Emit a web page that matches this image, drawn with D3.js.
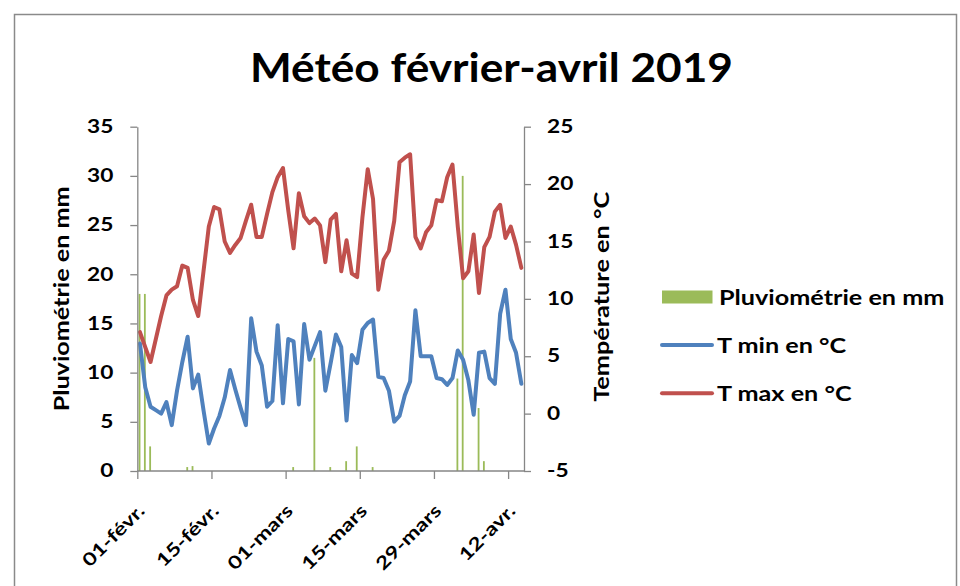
<!DOCTYPE html>
<html>
<head>
<meta charset="utf-8">
<script src="https://cdn.jsdelivr.net/npm/d3@7"></script>
<style>
  html, body { margin: 0; padding: 0; background: #fff; }
  svg { display: block; }
  text { font-family: "Lato", "Open Sans", sans-serif; font-weight: 700; fill: #000; }
</style>
</head>
<body>
<svg id="chart" width="960" height="586"></svg>
<script>
// ---- Data (Feb 1 .. Apr 14, 2019 : 73 days) ----
const title = "Météo février-avril 2019";
const tickDays = [0, 14, 28, 42, 56, 70];
const tickLabels = ["01-févr.", "15-févr.", "01-mars", "15-mars", "29-mars", "12-avr."];
const rainTicks = [0, 5, 10, 15, 20, 25, 30, 35];
const tempTicks = [-5, 0, 5, 10, 15, 20, 25];

const rain = [
  18, 18, 2.5, 0, 0, 0, 0, 0, 0, 0.4, 0.5, 0, 0, 0,
  0, 0, 0, 0, 0, 0, 0, 0, 0, 0, 0, 0, 0, 0,
  0, 0.4, 0, 0, 0, 11.5, 0, 0, 0.4, 0, 0, 1.0, 0, 2.5,
  0, 0, 0.4, 0, 0, 0, 0, 0, 0, 0, 0, 0, 0, 0,
  0, 0, 0, 0, 9.4, 30, 0, 0, 6.4, 1.0, 0, 0, 0, 0,
  0, 0, 0
];
const tmin = [
  6.1, 2.3, 0.6, 0.3, 0.0, 1.0, -1.0, 2.0, 4.5, 6.7, 2.2, 3.4, 0.3, -2.6,
  -1.3, -0.2, 1.4, 3.8, 2.1, 0.5, -1.0, 8.3, 5.4, 4.2, 0.6, 1.1, 7.7, 0.9,
  6.5, 6.3, 0.8, 7.8, 4.7, 5.9, 7.1, 2.0, 4.4, 6.9, 5.8, -0.6, 5.1, 4.4,
  7.3, 7.9, 8.2, 3.2, 3.1, 2.0, -0.7, -0.2, 1.6, 2.8, 9.0, 5.0, 5.0, 5.0,
  3.1, 3.0, 2.5, 3.1, 5.5, 4.7, 2.9, -0.1, 5.3, 5.4, 3.1, 2.6, 8.7, 10.8,
  6.5, 5.3, 2.6
];
const tmax = [
  7.1, 5.8, 4.5, 6.5, 8.5, 10.3, 10.8, 11.1, 12.9, 12.7, 9.9, 8.5, 12.4, 16.3,
  18.0, 17.8, 15.0, 14.0, 14.7, 15.3, 16.8, 18.2, 15.4, 15.4, 17.4, 19.3, 20.6, 21.4,
  17.7, 14.4, 19.2, 17.2, 16.6, 17.0, 16.4, 13.2, 16.9, 17.4, 12.4, 15.1, 12.2, 11.9,
  17.1, 21.3, 18.7, 10.8, 13.4, 14.2, 16.8, 21.9, 22.3, 22.6, 15.4, 14.4, 15.8, 16.4,
  18.6, 18.5, 20.6, 21.7, 16.3, 11.8, 12.4, 15.6, 10.5, 14.5, 15.4, 17.6, 18.2, 15.3,
  16.3, 14.7, 12.7
];
const legendItems = ["Pluviométrie en mm", "T min en °C", "T max en °C"];
const colors = { rain: "#9BBB59", tmin: "#4F81BD", tmax: "#C0504D", axis: "#868686" };

// ---- Layout ----
const svg = d3.select("#chart");
const plot = { left: 137.3, right: 524, top: 126.7, bottom: 471 };
const nDays = tmin.length;
const widen = 1.26; // the reference glyphs are wider than Lato's

function stretch(sel) {
  sel.each(function () {
    const w = this.getComputedTextLength();
    d3.select(this).attr("textLength", w * widen).attr("lengthAdjust", "spacingAndGlyphs");
  });
}

const x = d3.scaleLinear().domain([0, nDays]).range([plot.left, plot.right]);
const yRain = d3.scaleLinear().domain([0, 35]).range([plot.bottom, plot.top]);
const yTemp = d3.scaleLinear().domain([-5, 25]).range([plot.bottom, plot.top]);
const cx = d => x(d + 0.5);

// Chart area border
svg.append("rect")
  .attr("x", 14.5).attr("y", 14.5).attr("width", 942).attr("height", 620)
  .attr("fill", "#fff").attr("stroke", "#8a8a8a").attr("stroke-width", 1.5);

// Title
svg.append("text")
  .attr("x", 491.5).attr("y", 82)
  .attr("text-anchor", "middle")
  .attr("font-size", 40)
  .attr("textLength", 483).attr("lengthAdjust", "spacingAndGlyphs")
  .text(title);

// Bars
svg.append("g").selectAll("rect")
  .data(rain.map((v, i) => ({ v, i })).filter(d => d.v > 0))
  .join("rect")
  .attr("x", d => cx(d.i) - 1.3)
  .attr("width", 1.8)
  .attr("y", d => yRain(d.v))
  .attr("height", d => yRain(0) - yRain(d.v))
  .attr("fill", colors.rain);

// Lines
const line = d3.line().x((d, i) => cx(i)).y(d => yTemp(d));
svg.append("path").datum(tmin).attr("d", line)
  .attr("fill", "none").attr("stroke", colors.tmin).attr("stroke-width", 4)
  .attr("stroke-linejoin", "round").attr("stroke-linecap", "round");
svg.append("path").datum(tmax).attr("d", line)
  .attr("fill", "none").attr("stroke", colors.tmax).attr("stroke-width", 4)
  .attr("stroke-linejoin", "round").attr("stroke-linecap", "round");

// Axes
function styleAxis(g) {
  g.select(".domain").attr("stroke", colors.axis).attr("stroke-width", 1.3);
  g.selectAll(".tick line").attr("stroke", colors.axis).attr("stroke-width", 1.3);
  g.selectAll(".tick text").attr("font-size", 18).attr("fill", "#000")
    .style("font-family", "Lato, 'Open Sans', sans-serif").style("font-weight", 700);
}

const leftAxis = svg.append("g").attr("transform", `translate(${plot.left},0)`)
  .call(d3.axisLeft(yRain).tickValues(rainTicks).tickSize(7).tickSizeOuter(0).tickPadding(17))
  .call(styleAxis);
leftAxis.selectAll(".tick text").call(stretch);

const rightAxis = svg.append("g").attr("transform", `translate(${plot.right},0)`)
  .call(d3.axisRight(yTemp).tickValues(tempTicks).tickSize(7).tickSizeOuter(0).tickPadding(16)
    .tickFormat(d => d < 0 ? "-" + Math.abs(d) : d))
  .call(styleAxis);
rightAxis.selectAll(".tick text").call(stretch);

const bottomAxis = svg.append("g").attr("transform", `translate(0,${plot.bottom})`)
  .call(d3.axisBottom(x).tickValues(tickDays).tickSize(8).tickSizeOuter(0)
    .tickFormat((d, i) => tickLabels[i]))
  .call(styleAxis);
bottomAxis.select(".domain").attr("d", `M${plot.left},0H${plot.right}`);
bottomAxis.selectAll(".tick text")
  .attr("text-anchor", "end")
  .attr("dy", null).attr("y", null)
  .attr("transform", "translate(8,41) rotate(-45)")
  .call(stretch);

// Axis titles
svg.append("text")
  .attr("transform", `translate(69,${(plot.top + plot.bottom) / 2}) rotate(-90)`)
  .attr("text-anchor", "middle").attr("font-size", 20)
  .attr("textLength", 225).attr("lengthAdjust", "spacingAndGlyphs")
  .text("Pluviométrie en mm");
svg.append("text")
  .attr("transform", `translate(609,${(plot.top + plot.bottom) / 2 - 2}) rotate(-90)`)
  .attr("text-anchor", "middle").attr("font-size", 20)
  .attr("textLength", 210).attr("lengthAdjust", "spacingAndGlyphs")
  .text("Température en °C");

// Legend
const leg = svg.append("g");
leg.append("rect").attr("x", 662).attr("y", 290.5).attr("width", 50.5).attr("height", 13)
  .attr("fill", colors.rain);
leg.append("line").attr("x1", 662).attr("x2", 712).attr("y1", 345).attr("y2", 345)
  .attr("stroke", colors.tmin).attr("stroke-width", 4).attr("stroke-linecap", "round");
leg.append("line").attr("x1", 662).attr("x2", 712).attr("y1", 393.3).attr("y2", 393.3)
  .attr("stroke", colors.tmax).attr("stroke-width", 4).attr("stroke-linecap", "round");
const legY = [304.5, 352.5, 401];
const legX = [719, 717, 717];
leg.selectAll("text.leg").data(legendItems).join("text")
  .attr("class", "leg")
  .attr("x", (d, i) => legX[i]).attr("y", (d, i) => legY[i])
  .attr("font-size", 20)
  .text(d => d)
  .call(stretch);
</script>
</body>
</html>
